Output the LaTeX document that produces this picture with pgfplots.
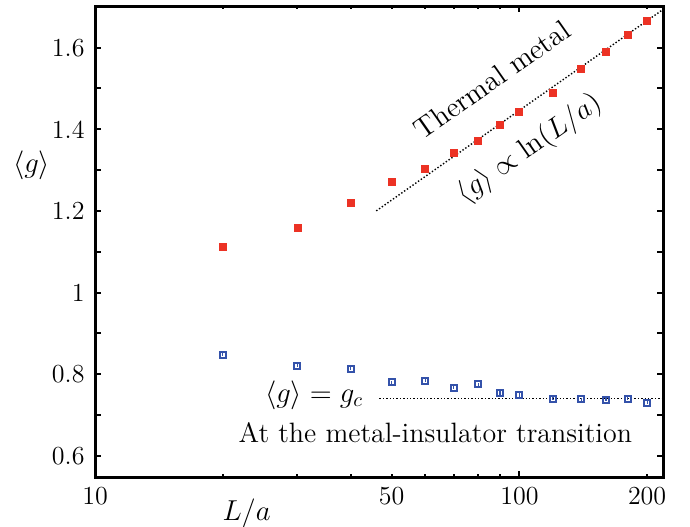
\RequirePackage{fix-cm}
\documentclass[border=0pt]{standalone}
\usepackage{fontspec}
\usepackage{pgfplots}
\pgfplotsset{compat=1.18}

\definecolor{metalred}{RGB}{236,50,36}
\definecolor{mitblue}{RGB}{52,82,170}

% <g> vs L/a, thermal metal and critical point
\pgfplotstableread{
L    g
20   1.112
30   1.159
40   1.220
50   1.272
60   1.303
70   1.342
80   1.372
90   1.411
100  1.443
120  1.490
140  1.549
160  1.590
180  1.632
200  1.666
}\metal

\pgfplotstableread{
L    g      err
20   0.848  0.004
30   0.821  0.004
40   0.813  0.004
50   0.780  0.004
60   0.784  0.004
70   0.767  0.004
80   0.775  0.004
90   0.754  0.004
100  0.749  0.004
120  0.740  0.004
140  0.738  0.004
160  0.737  0.004
180  0.740  0.004
200  0.730  0.004
}\critical

\begin{document}
\begin{tikzpicture}
\begin{axis}[
    scale only axis,
    width=284pt, height=235.5pt,
    xmode=log,
    xmin=10, xmax=218,
    ymin=0.548, ymax=1.702,
    axis line style={line width=1.5pt},
    tick align=inside,
    tick style={black, line width=1pt},
    major tick length=2.8pt,
    minor tick length=1.4pt,
    xtick={10,100},
    xticklabels={10,100},
    minor xtick={20,30,40,50,60,70,80,90,200},
    extra x ticks={50,200},
    extra x tick labels={50,200},
    extra x tick style={major tick length=0pt},
    ytick={0.6,0.7,0.8,0.9,1,1.1,1.2,1.3,1.4,1.5,1.6},
    yticklabels={0.6,,0.8,,1,,1.2,,1.4,,1.6},
    tick label style={font=\fontsize{13}{15}\selectfont},
    yticklabel style={xshift=-1.7pt},
    xticklabel style={yshift=-1.5pt},
]
\addplot[only marks, mark=square*, mark size=1.75pt, color=metalred]
    table[x=L, y=g] {\metal};

\addplot[only marks, mark=square, mark size=1.5pt, color=mitblue,
    mark options={line width=1pt},
    error bars/.cd, y dir=both, y explicit, error mark=none,
    error bar style={line width=0.6pt}]
    table[x=L, y=g, y error=err] {\critical};

% fits
\addplot[black, densely dotted, line width=0.7pt] coordinates {(46,1.200) (217,1.692)};
\addplot[black, densely dotted, line width=0.7pt] coordinates {(46.8,0.740) (218,0.740)};

\node[rotate=35, font=\fontsize{14.4}{17}\selectfont] at (axis cs:86.3,1.521) {Thermal metal};
\node[rotate=35, font=\fontsize{14.4}{17}\selectfont] at (axis cs:105.7,1.352) {$\langle g\rangle\propto\ln(L/a)$};
\node[anchor=east, font=\fontsize{14.4}{17}\selectfont] at (axis cs:44.5,0.748) {$\langle g\rangle=g_c$};
\node[font=\fontsize{14}{17}\selectfont] at (axis cs:63.4,0.657) {At the metal-insulator transition};
\end{axis}
\node[font=\fontsize{14.4}{17}\selectfont] at ([shift={(-31.7pt,155.9pt)}]current axis.south west) {$\langle g\rangle$};
\node[font=\fontsize{14.4}{17}\selectfont] at ([shift={(75.8pt,-18pt)}]current axis.south west) {$L/a$};
\pgfresetboundingbox
\path[use as bounding box] ([shift={(-47.5pt,-24.5pt)}]current axis.south west) rectangle ([shift={(13.5pt,3pt)}]current axis.north east);
\end{tikzpicture}
\end{document}
